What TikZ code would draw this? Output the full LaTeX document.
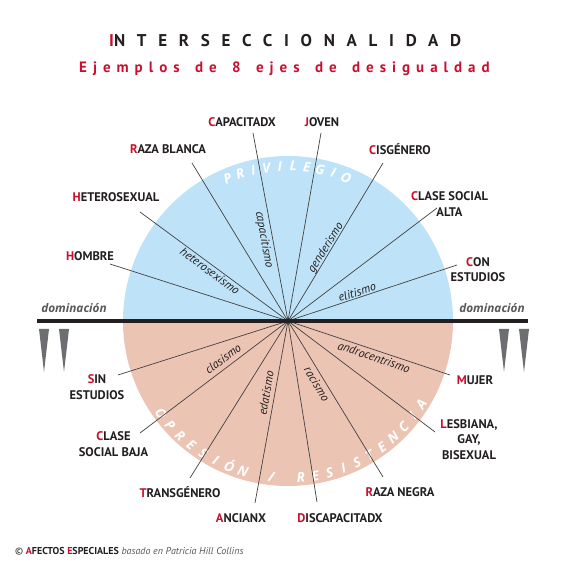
\documentclass[tikz,border=0pt]{standalone}
\usepackage{fontspec}
\setmainfont{PT Sans}
\newfontfamily\heavyit{Open Sans}
\definecolor{skyb}{RGB}{190,227,248}
\definecolor{peach}{RGB}{236,196,180}
\definecolor{accent}{RGB}{200,16,46}
\definecolor{ink}{RGB}{35,31,32}
\definecolor{greytxt}{RGB}{88,89,91}
\definecolor{tri}{RGB}{109,110,113}
\begin{document}
\begin{tikzpicture}[x=1pt,y=1pt,
  lab/.style={font=\bfseries\fontsize{12.5}{15.5}\selectfont, text=ink, align=center, inner sep=0pt},
  ism/.style={font=\itshape\fontsize{12}{14}\selectfont, text=ink, inner sep=0pt},
  ray/.style={draw=ink!85, line width=0.7pt},
  dom/.style={font=\heavyit\bfseries\itshape\fontsize{11.8}{14}\selectfont, text=greytxt, inner sep=0pt},
  wedge/.style={fill=tri},
  arcl/.style={font=\heavyit\bfseries\itshape\fontsize{13.5}{15}\selectfont, text=white, inner sep=0pt, anchor=base}
]
\useasboundingbox[fill=white] (0,0) rectangle (570,570);
\coordinate (c) at (288,249);
\fill[skyb] ([shift={(0:165)}]c) arc (0:180:165) -- cycle;
\fill[peach] ([shift={(180:165)}]c) arc (180:360:165) -- cycle;

% curved texts
\foreach \ch [count=\i from 0] in {P,R,I,V,I,L,E,G,I,O} {
  \pgfmathsetmacro\ang{113-5*\i}
  \node[arcl, rotate=\ang-90] (pv\i) at ([shift={(\ang:150)}]c) {\ch};
}
\foreach \ch [count=\i from 0] in {O,P,R,E,S,I,Ó,N,{},/,{},R,E,S,I,S,T,E,N,C,I,A} {
  \pgfmathsetmacro\ang{216+112/21*\i}
  \node[arcl, rotate=\ang+90] (op\i) at ([shift={(\ang:162)}]c) {\ch};
}

% ray ends
\coordinate (e-hombre) at (110,306);
\coordinate (e-hetero) at (140,358);
\coordinate (e-razab) at (192,407);
\coordinate (e-capac) at (253,437);
\coordinate (e-joven) at (321,437);
\coordinate (e-cis) at (383,407);
\coordinate (e-clasealta) at (437,362);
\coordinate (e-conest) at (457,305);
\coordinate (e-sinest) at (118,195);
\coordinate (e-clasebaja) at (140,137);
\coordinate (e-trans) at (190,92);
\coordinate (e-ancianx) at (255,67);
\coordinate (e-discap) at (317,68);
\coordinate (e-razan) at (383,93);
\coordinate (e-lesb) at (435,138);
\coordinate (e-mujer) at (450,195);

\foreach \e in {hombre,hetero,razab,capac,joven,cis,clasealta,conest,sinest,clasebaja,trans,ancianx,discap,razan,lesb,mujer}
  \draw[ray] (c) -- (e-\e);

% horizontal axis
\coordinate (dl) at (37,249);
\coordinate (dr) at (528,249);
\draw[ink, line width=3.5pt] (dl) -- (dr);
\node[dom, anchor=base] (domL) at (74,257) {dominación};
\node[dom, anchor=base] (domR) at (492,257) {dominación};

% wedges
\fill[wedge] (39,241) -- (49,241) -- (44,198) -- cycle;
\fill[wedge] (59,241) -- (69,241) -- (64,198) -- cycle;
\fill[wedge] (499,241) -- (509,241) -- (504,198) -- cycle;
\fill[wedge] (519,241) -- (529,241) -- (524,198) -- cycle;

% labels
\node[lab] (capacitadx) at (242,448) {\textcolor{accent}{C}APACITADX};
\node[lab] (joven) at (322,448) {\textcolor{accent}{J}OVEN};
\node[lab] (razablanca) at (168,421) {\textcolor{accent}{R}AZA BLANCA};
\node[lab] (cisgenero) at (400,421) {\textcolor{accent}{C}ISGÉNERO};
\node[lab] (heterosexual) at (116,373) {\textcolor{accent}{H}ETEROSEXUAL};
\node[lab] (hombre) at (90,314) {\textcolor{accent}{H}OMBRE};
\node[lab] (clasealta) at (449.5,366) {\textcolor{accent}{C}LASE SOCIAL\\ALTA};
\node[lab] (conestudios) at (478,300.5) {\textcolor{accent}{C}ON\\ESTUDIOS};
\node[lab] (sinestudios) at (97,183) {\textcolor{accent}{S}IN\\ESTUDIOS};
\node[lab] (clasebaja) at (113.5,126) {\textcolor{accent}{C}LASE\\SOCIAL BAJA};
\node[lab] (transgenero) at (180,78) {\textcolor{accent}{T}RANSGÉNERO};
\node[lab] (ancianx) at (241,52) {\textcolor{accent}{A}NCIANX};
\node[lab] (discapacitadx) at (340,52) {\textcolor{accent}{D}ISCAPACITADX};
\node[lab] (razanegra) at (400,78) {\textcolor{accent}{R}AZA NEGRA};
\node[lab] (lesbiana) at (469,130.5) {\textcolor{accent}{L}ESBIANA,\\GAY,\\BISEXUAL};
\node[lab] (mujer) at (475,190) {\textcolor{accent}{M}UJER};

% -isms
\node[ism, rotate=-36] (heterosexismo) at (210,299) {heterosexismo};
\node[ism, rotate=-79.5] (capacitismo) at (264,330) {capacitismo};
\node[ism, rotate=58] (genderismo) at (326,322) {genderismo};
\node[ism, rotate=18] (elitismo) at (357,278) {elitismo};
\node[ism, rotate=37] (clasismo) at (223,211) {clasismo};
\node[ism, rotate=80] (edatismo) at (266,177) {edatismo};
\node[ism, rotate=-59] (racismo) at (317,186) {racismo};
\node[ism, rotate=-18.5] (androcentrismo) at (374,213) {androcentrismo};

% titles
\node[anchor=base west, inner sep=0pt, text=ink,
  font=\bfseries\fontsize{17}{20}\selectfont\addfontfeatures{LetterSpace=69}] (title) at (109,523)
  {\textcolor{accent}{I}NTERSECCIONALIDAD};
\node[anchor=base west, inner sep=0pt, text=accent,
  font=\bfseries\fontsize{15}{17}\selectfont\addfontfeatures{LetterSpace=40}] (subtitle) at (79,497)
  {Ejemplos\hspace{5.6pt} de\hspace{5.6pt} 8\hspace{5.6pt} ejes\hspace{5.6pt} de\hspace{5.6pt} desigualdad};

% footer
\node[anchor=base west, inner sep=0pt, font=\fontsize{10}{12}\selectfont] (footer) at (15,15)
  {\textcolor{ink}{©} \textbf{\textcolor{accent}{A}\textcolor{ink}{FECTOS} \textcolor{accent}{E}\textcolor{ink}{SPECIALES}} \textcolor{greytxt}{\itshape basado en Patricia Hill Collins}};
\end{tikzpicture}
\end{document}
